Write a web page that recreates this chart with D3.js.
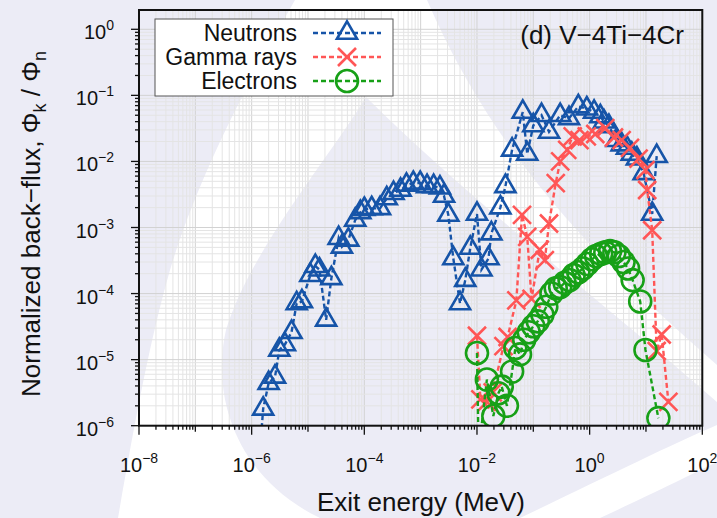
<!DOCTYPE html>
<html lang="en">
<head>
<meta charset="utf-8">
<script src="https://d3js.org/d3.v7.min.js"></script>
<style>
  body { margin: 0; background: #fff; }
  text { font-family: "Liberation Sans", Arial, Helvetica, sans-serif; fill: #111; }
</style>
</head>
<body>
<div id="chart"></div>
<script>
// energies (MeV) and normalized back-flux
const neutronE = [1.4e-6, 1.6e-6, 2.0e-6, 2.6e-6, 3.1e-6, 3.9e-6, 5.1e-6, 6.3e-6, 7.8e-6, 1.1e-5,
  1.35e-5, 1.6e-5, 2.1e-5, 2.6e-5, 3.5e-5, 4.0e-5, 5.2e-5, 6.9e-5, 8.5e-5, 1.0e-4,
  1.35e-4, 1.9e-4, 2.5e-4, 3.3e-4, 4.4e-4, 5.6e-4, 7.4e-4, 9.8e-4, 1.3e-3, 1.7e-3,
  2.2e-3, 2.6e-3, 3.1e-3, 3.8e-3, 5.0e-3, 6.2e-3, 7.6e-3, 1.0e-2, 1.2e-2, 1.6e-2,
  1.8e-2, 2.6e-2, 3.2e-2, 4.2e-2, 6.5e-2, 7.8e-2, 0.10, 0.14, 0.19, 0.30,
  0.43, 0.63, 0.89, 1.2, 1.55, 1.8, 2.2, 3.0, 3.7, 4.6,
  5.6, 6.9, 9.1, 12.9, 15.5];
const neutronFlux = [4.0e-7, 1.8e-6, 4.4e-6, 5.5e-6, 1.4e-5, 1.7e-5, 2.6e-5, 7.1e-5, 7.6e-5, 1.9e-4,
  2.6e-4, 2.3e-4, 4.0e-5, 1.7e-4, 6.9e-4, 5.1e-4, 6.5e-4, 1.3e-3, 1.7e-3, 1.9e-3,
  1.95e-3, 1.95e-3, 2.75e-3, 3.3e-3, 3.7e-3, 4.4e-3, 4.7e-3, 4.7e-3, 4.2e-3, 4.2e-3,
  4.0e-3, 3.0e-3, 1.55e-3, 3.4e-4, 7.1e-5, 1.6e-4, 4.9e-4, 1.6e-3, 2.3e-4, 3.4e-4,
  8.1e-4, 2.0e-3, 4.2e-3, 1.5e-2, 5.6e-2, 1.3e-2, 3.5e-2, 5.0e-2, 2.8e-2, 5.0e-2,
  4.5e-2, 6.8e-2, 6.3e-2, 5.6e-2, 4.8e-2, 4.0e-2, 3.4e-2, 2.1e-2, 1.8e-2, 1.6e-2,
  1.3e-2, 1.1e-2, 6.6e-3, 1.6e-3, 1.2e-2];

const gammaE = [1.0e-2, 1.15e-2, 1.5e-2, 1.9e-2, 2.95e-2, 3.5e-2, 5.0e-2, 6.3e-2, 7.8e-2, 9.3e-2,
  0.13, 0.16, 0.19, 0.25, 0.30, 0.40, 0.50, 0.66, 0.89, 1.26,
  1.9, 2.7, 3.7, 5.2, 7.4, 9.8, 10.5, 12.9, 15.5, 19, 25];
const gammaFlux = [2.3e-5, 2.5e-6, 2.3e-6, 3.2e-6, 1.6e-5, 2.2e-5, 7.9e-5, 1.55e-3, 7.2e-4, 8.3e-5,
  4.6e-4, 3.2e-4, 1.15e-3, 4.7e-3, 1.0e-2, 1.5e-2, 2.4e-2, 2.1e-2, 2.4e-2, 2.6e-2,
  3.2e-2, 2.3e-2, 2.1e-2, 1.6e-2, 1.1e-2, 7.4e-3, 3.7e-3, 9.1e-4, 1.35e-5, 2.4e-5, 2.3e-6];

const electronE = [1.0e-2, 1.07e-2, 1.5e-2, 1.95e-2, 2.4e-2, 2.75e-2, 3.4e-2, 4.2e-2, 4.8e-2, 5.8e-2,
  6.9e-2, 8.3e-2, 0.10, 0.12, 0.145, 0.17, 0.21, 0.25, 0.30, 0.36,
  0.44, 0.52, 0.63, 0.76, 0.91, 1.1, 1.3, 1.6, 1.9, 2.3,
  2.75, 3.3, 4.0, 4.8, 5.8, 7.9, 9.8, 16.6];
const electronFlux = [1.26e-5, 4.0e-7, 5.0e-6, 1.4e-6, 3.1e-6, 3.9e-6, 2.0e-6, 6.6e-6, 1.5e-5, 1.2e-5,
  2.0e-5, 2.6e-5, 3.2e-5, 3.8e-5, 4.8e-5, 6.3e-5, 1.0e-4, 1.2e-4, 1.26e-4, 1.45e-4,
  1.6e-4, 1.9e-4, 2.1e-4, 2.4e-4, 2.8e-4, 3.3e-4, 3.7e-4, 4.0e-4, 4.2e-4, 4.4e-4,
  4.2e-4, 3.7e-4, 3.0e-4, 2.4e-4, 1.6e-4, 7.6e-5, 1.4e-5, 1.3e-6];

const seriesNames = ["Neutrons", "Gamma rays", "Electrons"];
const xTickExps = [-8, -7, -6, -5, -4, -3, -2, -1, 0, 1, 2];
const xLabelExps = [-8, -6, -4, -2, 0, 2];
const yTickExps = [-6, -5, -4, -3, -2, -1, 0];

const W = 717, H = 518;
const L = 139, R = 702.3, T = 10, B = 425.7;

const svg = d3.select("#chart").append("svg")
  .attr("width", W).attr("height", H);

// watermark in the background
const wm = "#ececf6";
const bg = svg.append("g");
bg.append("path").attr("fill", wm)
  .attr("d", "M0,0 L295,0 C255,70 200,170 170,270 C150,340 135,420 118,518 L0,518 Z");
bg.append("path").attr("fill", wm)
  .attr("d", "M366,97 C335,150 250,250 226,330 C210,400 240,480 320,518 L520,518 C600,480 670,445 717,425 L717,402 C600,300 470,200 366,97 Z");
bg.append("path").attr("fill", wm)
  .attr("d", "M427,0 L717,0 L717,365 C620,280 500,170 427,0 Z");
bg.append("path").attr("fill", wm)
  .attr("d", "M600,518 C650,495 690,475 717,462 L717,518 Z");

const x = d3.scaleLog().domain([1e-8, 1e2]).range([L, R]);
const y = d3.scaleLog().domain([1e-6, 1]).range([B, 29.3]);

// grid
const grid = svg.append("g");
xTickExps.forEach(e => {
  for (let k = 1; k <= 9; k++) {
    const v = k * Math.pow(10, e);
    if (v > 1e2) break;
    grid.append("line")
      .attr("x1", x(v)).attr("x2", x(v)).attr("y1", T).attr("y2", B)
      .attr("stroke", k === 1 ? "#d2d2d2" : "#e4e4e4").attr("stroke-width", 1);
  }
});
yTickExps.forEach(e => {
  for (let k = 1; k <= 9; k++) {
    const v = k * Math.pow(10, e);
    if (y(v) < T) break;
    grid.append("line")
      .attr("x1", L).attr("x2", R).attr("y1", y(v)).attr("y2", y(v))
      .attr("stroke", k === 1 ? "#d2d2d2" : "#e4e4e4").attr("stroke-width", 1);
  }
});

// ticks
const ticks = svg.append("g").attr("stroke", "#111").attr("stroke-width", 1.3);
xTickExps.forEach(e => {
  for (let k = 1; k <= 9; k++) {
    const v = k * Math.pow(10, e);
    if (v > 1e2) break;
    const len = k === 1 ? (xLabelExps.includes(e) ? 9 : 6) : 4;
    ticks.append("line").attr("x1", x(v)).attr("x2", x(v)).attr("y1", B).attr("y2", B + len);
  }
});
yTickExps.forEach(e => {
  for (let k = 1; k <= 9; k++) {
    const v = k * Math.pow(10, e);
    if (y(v) < T) break;
    const len = k === 1 ? 8 : 4;
    ticks.append("line").attr("x1", L - len).attr("x2", L).attr("y1", y(v)).attr("y2", y(v));
  }
});

// tick labels
function powLabel(sel, e) {
  sel.append("tspan").text("10");
  sel.append("tspan").attr("dy", -9).style("font-size", "14px")
    .text(e < 0 ? "\u2212" + (-e) : String(e));
}
xLabelExps.forEach(e => {
  const t = svg.append("text").attr("x", x(Math.pow(10, e))).attr("y", B + 46)
    .attr("text-anchor", "middle").style("font-size", "20px");
  powLabel(t, e);
});
yTickExps.forEach(e => {
  const t = svg.append("text").attr("x", 114).attr("y", y(Math.pow(10, e)) + 10)
    .attr("text-anchor", "end").style("font-size", "20px");
  powLabel(t, e);
});

// axis titles
svg.append("text").attr("x", 421).attr("y", 511).attr("text-anchor", "middle")
  .style("font-size", "26px").text("Exit energy (MeV)");
const yt = svg.append("text").attr("transform", "translate(40,224) rotate(-90)")
  .attr("text-anchor", "middle").style("font-size", "26px");
yt.append("tspan").text("Normalized back\u2212flux, \u03A6");
yt.append("tspan").attr("dy", 6).style("font-size", "18px").text("k");
yt.append("tspan").attr("dy", -6).text(" / \u03A6");
yt.append("tspan").attr("dy", 6).style("font-size", "18px").text("n");

// data
svg.append("clipPath").attr("id", "clip").append("rect")
  .attr("x", L).attr("y", T).attr("width", R - L).attr("height", B - T);
const plot = svg.append("g").attr("clip-path", "url(#clip)");

const blue = "#1654a8", red = "#ff5656", green = "#17a017";
const series = [
  {name: seriesNames[0], e: neutronE, f: neutronFlux, color: blue, marker: "tri"},
  {name: seriesNames[1], e: gammaE, f: gammaFlux, color: red, marker: "x"},
  {name: seriesNames[2], e: electronE, f: electronFlux, color: green, marker: "circ"}
];

function drawMarker(g, type, color) {
  if (type === "tri") {
    g.append("path").attr("d", d3.symbol(d3.symbolTriangle, 175)())
      .attr("fill", "none").attr("stroke", color).attr("stroke-width", 2.6)
      .attr("stroke-linejoin", "miter");
  } else if (type === "x") {
    g.append("path").attr("d", "M-9,-9L9,9M-9,9L9,-9")
      .attr("stroke", color).attr("stroke-width", 2.6);
  } else {
    g.append("circle").attr("r", 11)
      .attr("fill", "none").attr("stroke", color).attr("stroke-width", 2.6);
  }
}

const line = d3.line().x(d => x(d[0])).y(d => y(d[1]));
series.forEach(s => {
  const pts = s.e.map((v, i) => [v, s.f[i]]);
  plot.append("path").datum(pts)
    .attr("fill", "none").attr("stroke", s.color).attr("stroke-width", 2.4)
    .attr("stroke-dasharray", "5,3").attr("d", line);
  plot.selectAll(null).data(pts).enter().append("g")
    .attr("transform", d => `translate(${x(d[0])},${y(d[1])})`)
    .each(function () { drawMarker(d3.select(this), s.marker, s.color); });
});

// frame
svg.append("rect").attr("x", L).attr("y", T).attr("width", R - L).attr("height", B - T)
  .attr("fill", "none").attr("stroke", "#111").attr("stroke-width", 2);

// legend
const lg = svg.append("g");
lg.append("rect").attr("x", 155).attr("y", 19).attr("width", 238).attr("height", 77)
  .attr("fill", "#fff").attr("stroke", "#555").attr("stroke-width", 1);
series.forEach((s, i) => {
  const cy = 33 + i * 24;
  lg.append("text").attr("x", 297).attr("y", cy + 8).attr("text-anchor", "end")
    .style("font-size", "23px").text(s.name);
  lg.append("line").attr("x1", 313).attr("x2", 381).attr("y1", cy).attr("y2", cy)
    .attr("stroke", s.color).attr("stroke-width", 2.4).attr("stroke-dasharray", "5,3");
  const m = lg.append("g").attr("transform", `translate(347,${cy})`);
  drawMarker(m, s.marker, s.color);
});

// panel title
svg.append("text").attr("x", 684).attr("y", 44).attr("text-anchor", "end")
  .style("font-size", "26px").text("(d) V\u22124Ti\u22124Cr");
</script>
</body>
</html>
